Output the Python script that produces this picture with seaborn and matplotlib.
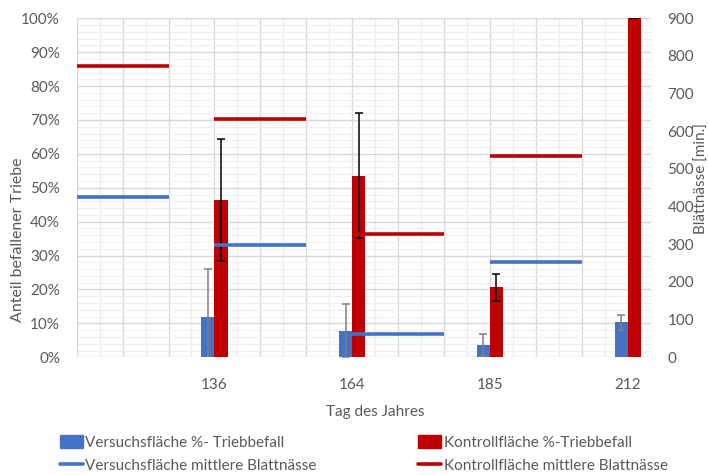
import matplotlib
matplotlib.use("Agg")
import numpy as np
import pandas as pd
import matplotlib.pyplot as plt
import seaborn as sns
from matplotlib.lines import Line2D
from matplotlib.patches import Patch
from matplotlib.ticker import PercentFormatter

# data
tage = ["", "136", "164", "185", "212"]
bar_tage = ["136", "164", "185", "212"]
versuch_befall = [12.0, 7.8, 3.6, 10.3]          # %
versuch_fehler = [14.0, 8.0, 3.2, 2.2]
kontroll_befall = [46.4, 53.6, 20.7, 100.0]      # %
kontroll_fehler = [18.1, 18.5, 4.0, 0.0]
line_tage = ["", "136", "164", "185"]
versuch_blattnaesse = [426, 299, 63, 253]        # min.
kontroll_blattnaesse = [774, 632, 328, 534]      # min.

BLUE = "#4472C4"
RED = "#C00000"
GREY = "#595959"

sns.set_theme(style="white")
plt.rcParams["font.family"] = ["Lato", "DejaVu Sans"]

lab_v = "Versuchsfläche %- Triebbefall"
lab_k = "Kontrollfläche %-Triebbefall"
df = pd.DataFrame({
    "tag": bar_tage * 2,
    "serie": [lab_v] * 4 + [lab_k] * 4,
    "wert": versuch_befall + kontroll_befall,
})

fig = plt.figure(figsize=(7.08, 4.75), dpi=100)
ax = fig.add_axes([0.1083, 0.2478, 0.8107, 0.7137])

sns.barplot(data=df, x="tag", y="wert", hue="serie", order=tage,
            hue_order=[lab_v, lab_k], palette=[BLUE, RED], width=0.19,
            gap=0, saturation=1, linewidth=0, errorbar=None, legend=False,
            ax=ax, zorder=3)

for cont, err, col in zip(ax.containers, [versuch_fehler, kontroll_fehler],
                          ["#7F7F7F", "black"]):
    xs = [p.get_x() + p.get_width() / 2 for p in cont]
    ys = [p.get_height() for p in cont]
    ax.errorbar(xs, ys, yerr=err, fmt="none", ecolor=col, elinewidth=1.1,
                capsize=3, capthick=1.1, zorder=4)

xmax = 25 / 6
ax.set_xlim(0, xmax)
ax.set_ylim(0, 100)
for x in np.arange(1, 25) / 6:
    strong = abs(x * 3 - round(x * 3)) < 1e-6
    ax.axvline(x, color="#D9D9D9" if strong else "#EDEDED", lw=1, zorder=0)
for y in np.arange(0, 101, 2):
    ax.axhline(y, color="#D9D9D9" if y % 10 == 0 else "#EFEFEF",
               lw=1 if y % 10 == 0 else 0.8, zorder=0)
ax.axvline(0, color="#D9D9D9", lw=1, zorder=0)

ax.set_yticks(np.arange(0, 101, 10))
ax.yaxis.set_major_formatter(PercentFormatter(decimals=0))
ax.set_xticks(range(len(tage)))
ax.set_xticklabels(tage)
ax.tick_params(axis="both", length=0, colors=GREY, labelsize=11)
ax.tick_params(axis="x", pad=15)
ax.tick_params(axis="y", pad=12)
ax.set_xlabel("")
ax.set_ylabel("")
for s in ax.spines.values():
    s.set_visible(False)

ax2 = ax.twinx()
ax2.set_ylim(0, 900)
ax2.set_yticks(np.arange(0, 901, 100))
ax2.tick_params(axis="y", length=0, colors=GREY, labelsize=11, pad=12)
for s in ax2.spines.values():
    s.set_visible(False)
ax2.grid(False)

pos = np.array([tage.index(t) for t in line_tage], dtype=float)
ax2.hlines(versuch_blattnaesse, pos, pos + 2 / 3, color=BLUE, lw=2.6, zorder=5)
ax2.hlines(kontroll_blattnaesse, pos, pos + 2 / 3, color=RED, lw=2.6, zorder=5)
ax2.set_xlim(0, xmax)

fig.text(0.026, 1 - 240 / 475, "Anteil befallener Triebe", rotation=90,
         ha="center", va="center", color=GREY, fontsize=11.5)
fig.text(0.992, 1 - 179 / 475, "Blättnässe [min.]", rotation=90,
         ha="center", va="center", color=GREY, fontsize=11)
fig.text(375 / 708, 1 - 412 / 475, "Tag des Jahres", ha="center",
         va="center", color=GREY, fontsize=11)

handles = [
    Patch(color=BLUE, label=lab_v),
    Patch(color=RED, label=lab_k),
    Line2D([], [], color=BLUE, lw=2.6, label="Versuchsfläche mittlere Blattnässe"),
    Line2D([], [], color=RED, lw=2.6, label="Kontrollfläche mittlere Blattnässe"),
]
order = [0, 2, 1, 3]
leg = fig.legend([handles[i] for i in order], [handles[i].get_label() for i in order],
                 ncol=2, loc="center", bbox_to_anchor=(0.514, 1 - 454 / 475),
                 frameon=False, fontsize=11, handlelength=1.5, handleheight=0.9,
                 handletextpad=0.15, columnspacing=6.65, labelspacing=0.55,
                 labelcolor=GREY)

fig.savefig("out.png", dpi=100)
